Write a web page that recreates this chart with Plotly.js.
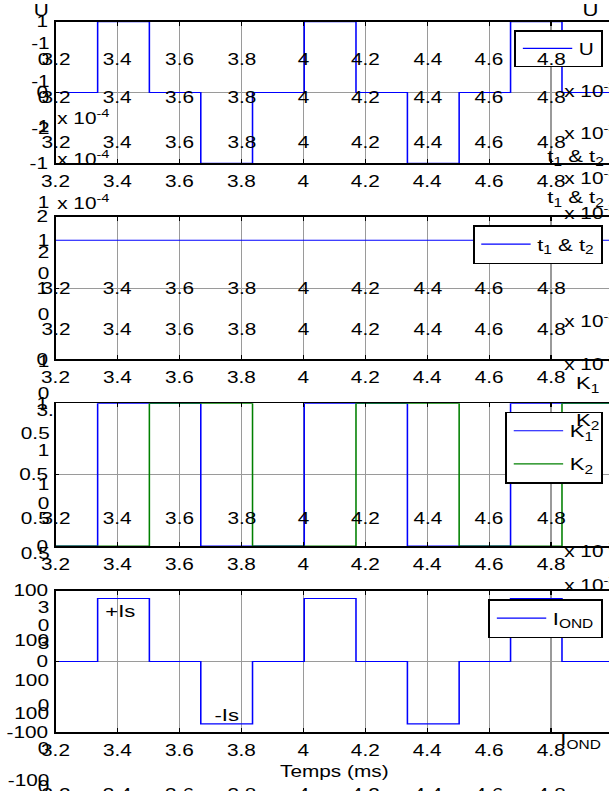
<!DOCTYPE html>
<html>
<head>
<meta charset="utf-8">
<script src="https://cdn.plot.ly/plotly-3.0.1.min.js"></script>
<style>
html, body { margin:0; padding:0; overflow:hidden; background:#fff; width:609px; height:791px; }
#chart { width:477px; height:791px; transform: scaleX(1.3); transform-origin: 0 0; }
</style>
</head>
<body>
<div id="chart"></div>
<script>
// ---------------- DATA ----------------
const switchTimes = [3.2, 3.336, 3.503, 3.669, 3.836, 4.003, 4.170, 4.336, 4.503, 4.669, 4.835, 5.0];
const uLevels     = [0, 1, 0, -1, 0, 1, 0, -1, 0, 1, 0, 0];
const iOndLevels  = [0, 89, 0, -88, 0, 89, 0, -88, 0, 89, 0, 0];
const tTimes      = [3.2, 5.0];
const t12Values   = [1.67, 1.67];          // x 10^-4
const k1Times     = [3.2, 3.336, 3.669, 4.003, 4.336, 4.669, 5.0];
const k1Levels    = [0, 1, 0, 1, 0, 1, 1];
const k2Times     = [3.2, 3.503, 3.836, 4.170, 4.503, 4.835, 5.0];
const k2Levels    = [0, 1, 0, 1, 0, 1, 1];
const xTickVals   = [3.2, 3.4, 3.6, 3.8, 4.0, 4.2, 4.4, 4.6, 4.8];
const xTickText   = ['3.2', '3.4', '3.6', '3.8', '4', '4.2', '4.4', '4.6', '4.8'];

// ---------------- LAYOUT ----------------
const SX = 1.3;                 // the reference is stretched horizontally
const W = 620, H = 791;         // target (stretched) pixel frame
const FONT = 'Liberation Sans, Arial, sans-serif';
const FS = 16, LFS = 17;
const BLUE = '#0000ff', GREEN = '#008000';
const xDom = [55.5 / W, 613 / W];
function yDom(topPx, botPx) { return [1 - botPx / H, 1 - topPx / H]; }
const panels = [
  {top: 21.7, bot: 163.3},
  {top: 216.7, bot: 359.3},
  {top: 403.3, bot: 546},
  {top: 590.7, bot: 732.3}
];

function xAxis(anchor, extra) {
  return Object.assign({
    domain: xDom, anchor: anchor, range: [3.2, 5.0],
    tickvals: xTickVals, ticktext: xTickText,
    ticks: 'inside', ticklen: 4, tickcolor: '#000', tickwidth: 1,
    showline: true, linecolor: '#000', linewidth: 1.5, mirror: 'ticks',
    showgrid: true, gridcolor: '#9a9a9a', gridwidth: 1,
    zeroline: false, ticklabelstandoff: 3,
    tickfont: {family: FONT, size: FS, color: '#000'}
  }, extra || {});
}
function yAxis(anchor, p, range, vals, text) {
  return {
    domain: yDom(p.top, p.bot), anchor: anchor, range: range,
    tickvals: vals, ticktext: text,
    ticks: 'inside', ticklen: 3, tickcolor: '#000', tickwidth: 1,
    showline: true, linecolor: '#000', linewidth: 1.5, mirror: 'ticks',
    showgrid: true, gridcolor: '#9a9a9a', gridwidth: 1,
    zeroline: false, ticklabelstandoff: 1,
    tickfont: {family: FONT, size: FS, color: '#000'}
  };
}

const traces = [
  {x: switchTimes, y: uLevels, type: 'scatter', mode: 'lines', line: {color: BLUE, width: 1.2, shape: 'hv'},
   name: 'U', xaxis: 'x', yaxis: 'y', legend: 'legend'},
  {x: tTimes, y: t12Values, type: 'scatter', mode: 'lines', line: {color: BLUE, width: 1.2},
   name: 't<sub>1</sub> & t<sub>2</sub>', xaxis: 'x2', yaxis: 'y2', legend: 'legend2'},
  {x: k1Times, y: k1Levels, type: 'scatter', mode: 'lines', line: {color: BLUE, width: 1.2, shape: 'hv'},
   name: 'K<sub>1</sub>', xaxis: 'x3', yaxis: 'y3', legend: 'legend3', legendgroup: 'a'},
  {x: k2Times, y: k2Levels, type: 'scatter', mode: 'lines', line: {color: GREEN, width: 1.2, shape: 'hv'},
   name: 'K<sub>2</sub>', xaxis: 'x3', yaxis: 'y3', legend: 'legend3', legendgroup: 'b'},
  {x: switchTimes, y: iOndLevels, type: 'scatter', mode: 'lines', line: {color: BLUE, width: 1.2, shape: 'hv'},
   name: 'I<sub>OND</sub>', xaxis: 'x4', yaxis: 'y4', legend: 'legend4'}
];

function legendAt(topPx, gap, size) {
  return {
    x: 602.7 / W, xanchor: 'right', y: 1 - topPx / H, yanchor: 'top',
    bgcolor: '#fff', bordercolor: '#000', borderwidth: 1.5,
    font: {family: FONT, size: size || LFS, color: '#000'},
    itemwidth: 38, tracegroupgap: gap
  };
}

const annotations = [];
function txt(text, xpx, ypx, anchor, size) {
  annotations.push({text: text, x: xpx / W, y: 1 - ypx / H, xref: 'paper', yref: 'paper',
    xanchor: anchor || 'right', yanchor: 'middle', showarrow: false,
    font: {family: FONT, size: size || FS, color: '#000'}});
}
// ghost x tick rows from overlapping axes
const ghostRowsY = [59, 98, 143, 288, 330, 518, 794];
ghostRowsY.forEach(function (ry) {
  xTickVals.forEach(function (v, i) {
    annotations.push({text: xTickText[i], x: v, xref: 'x', y: 1 - ry / H, yref: 'paper',
      xanchor: 'center', yanchor: 'middle', showarrow: false,
      font: {family: FONT, size: FS, color: '#000'}});
  });
});
// ghost exponents on the right
[90, 132, 177, 212, 320, 363, 550, 584].forEach(function (ey) { txt('x 10<sup>-3</sup>', 562, ey, 'left'); });
// ghost exponents on the left
txt('x 10<sup>-4</sup>', 55, 117, 'left');
txt('x 10<sup>-4</sup>', 55, 158, 'left');
txt('x 10<sup>-4</sup>', 55, 202, 'left');
txt('1', 52, 202);
// ghost y labels (left)
const ghostLeft = [
  ['U', 10], ['-1', 43], ['0', 59], ['-1', 82], ['0', 97], ['-2', 128], ['1', 126],
  ['1', 240], ['2', 252], ['0', 273], ['0', 315], ['1', 362], ['0', 393],
  ['0.5', 433], ['1', 450], ['1', 484], ['0', 503], ['0.5', 518], ['0.5', 553],
  ['3', 607], ['0', 625], ['100', 640], ['3', 643], ['100', 680], ['0', 705], ['100', 713],
  ['0', 748], ['-100', 780], ['0', 786]
];
ghostLeft.forEach(function (g) { txt(g[0], 52, g[1]); });
txt('3.', 56, 410);
// ghost labels (right)
txt('U', 590, 10, 'center', LFS);
txt('t<sub>1</sub> & t<sub>2</sub>', 545, 158, 'left', LFS);
txt('t<sub>1</sub> & t<sub>2</sub>', 545, 199, 'left', LFS);
txt('K<sub>1</sub>', 573, 385, 'left', LFS);
txt('K<sub>2</sub>', 573, 422, 'left', LFS);
txt('I<sub>OND</sub>', 557, 741, 'left', LFS);
// data labels
annotations.push({text: '+Is', x: 3.411, y: 71, xref: 'x4', yref: 'y4', showarrow: false,
  font: {family: FONT, size: LFS, color: '#000'}});
annotations.push({text: '-Is', x: 3.753, y: -76, xref: 'x4', yref: 'y4', showarrow: false,
  font: {family: FONT, size: LFS, color: '#000'}});

const layout = {
  width: Math.round(W / SX), height: H,
  margin: {l: 0, r: 0, t: 0, b: 0},
  paper_bgcolor: '#fff', plot_bgcolor: '#fff',
  font: {family: FONT, size: FS, color: '#000'},
  showlegend: true,
  xaxis: xAxis('y'),
  xaxis2: xAxis('y2'),
  xaxis3: xAxis('y3'),
  xaxis4: xAxis('y4', {title: {text: 'Temps (ms)', standoff: 8, font: {family: FONT, size: FS, color: '#000'}}}),
  yaxis: yAxis('x', panels[0], [-1, 1], [-1, 0, 1], ['-1', '0', '1']),
  yaxis2: yAxis('x2', panels[1], [0, 2], [0, 1, 2], ['0', '1', '2']),
  yaxis3: yAxis('x3', panels[2], [0, 1], [0, 0.5, 1], ['0', '0.5', '1']),
  yaxis4: yAxis('x4', panels[3], [-100, 100], [-100, 0, 100], ['-100', '0', '100']),
  legend: legendAt(30, 0, 16),
  legend2: legendAt(225, 0),
  legend3: legendAt(411.7, 8),
  legend4: legendAt(599, 0),
  annotations: annotations
};

Plotly.newPlot('chart', traces, layout, {staticPlot: true, displayModeBar: false});
</script>
</body>
</html>
